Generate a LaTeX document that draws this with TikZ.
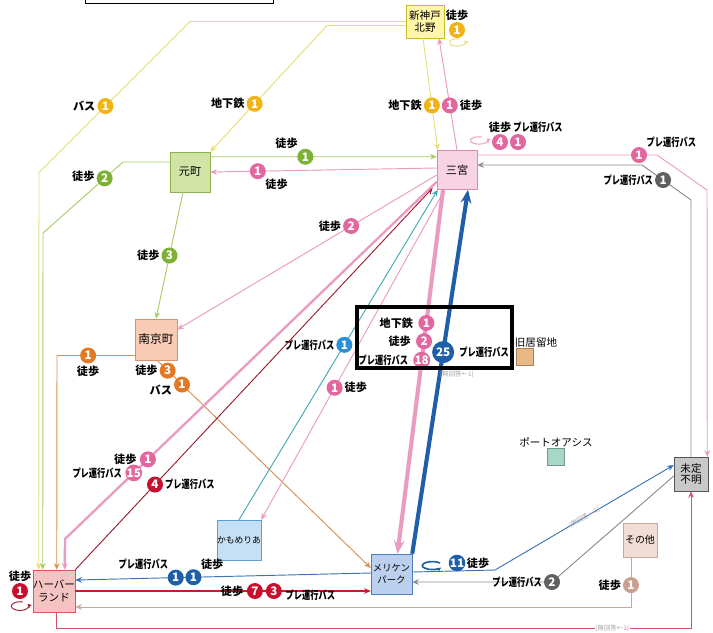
\documentclass[tikz,border=0pt]{standalone}
\usepackage{fontspec}
\setmainfont{Noto Sans CJK JP}
\newfontfamily\narrowjp{Noto Sans CJK JP}[FakeStretch=0.74]
\usepackage{tikz}
\usetikzlibrary{arrows.meta, positioning, calc}
% station colours
\definecolor{skfill}{HTML}{FFF6A8}
\definecolor{skdraw}{HTML}{C8B830}
\definecolor{mmfill}{HTML}{D2E3A6}
\definecolor{mmdraw}{HTML}{8DB050}
\definecolor{snfill}{HTML}{F8D3E3}
\definecolor{sndraw}{HTML}{E088B0}
\definecolor{nkfill}{HTML}{F9CBB4}
\definecolor{nkdraw}{HTML}{D99070}
\definecolor{hbfill}{HTML}{F6C3C3}
\definecolor{hbdraw}{HTML}{D45A5A}
\definecolor{kmfill}{HTML}{C5DFF4}
\definecolor{kmdraw}{HTML}{5A9FD5}
\definecolor{mrfill}{HTML}{BBD0EE}
\definecolor{mrdraw}{HTML}{4F7FBF}
\definecolor{unfill}{HTML}{C8C8C8}
\definecolor{undraw}{HTML}{555555}
\definecolor{otfill}{HTML}{F2DDD6}
\definecolor{otdraw}{HTML}{C9A898}
\definecolor{kyfill}{HTML}{E9B985}
\definecolor{oafill}{HTML}{A6D7C9}
% route colours
\definecolor{yline}{HTML}{E6DE78}
\definecolor{ynum}{HTML}{F0B418}
\definecolor{gline}{HTML}{A8CC66}
\definecolor{gnum}{HTML}{7CB134}
\definecolor{pline}{HTML}{EB9AC0}
\definecolor{pnum}{HTML}{E2679F}
\definecolor{oline}{HTML}{D9904E}
\definecolor{onum}{HTML}{E07A25}
\definecolor{rline}{HTML}{9B1C2E}
\definecolor{rnum}{HTML}{C8102E}
\definecolor{tline}{HTML}{3FA9B5}
\definecolor{cnum}{HTML}{2B8FD6}
\definecolor{bline}{HTML}{1F5FA8}
\definecolor{bline2}{HTML}{3A74B5}
\definecolor{kline}{HTML}{8C8C8C}
\definecolor{knum}{HTML}{606060}
\definecolor{redline}{HTML}{C8192E}
\definecolor{tanline}{HTML}{C7A899}
\definecolor{tannum}{HTML}{C9A090}
\definecolor{bline3}{HTML}{D9506E}
\newcommand\prebus{{\narrowjp プレ運行バス}}
\tikzset{
  % stations -- usage: \node[stn={fill}{draw}] ...
  stn/.style 2 args={rectangle, draw=#2, fill=#1, minimum width=1.2cm,
                     minimum height=1.2cm, inner sep=0pt, align=center,
                     font=\fontsize{9.5}{11}\selectfont},
  spot/.style={rectangle, draw=#1!70!black, fill=#1, minimum size=0.51cm},
  % routes
  wire/.style={draw=#1, line width=0.8pt, -{Stealth[length=2mm,width=1.7mm]}},
  loopar/.style={draw=#1, line width=0.8pt, -{Stealth[length=1.3mm,width=1.3mm]}},
  % counts
  num/.style={circle, fill=#1, text=white, inner sep=0pt, minimum size=0.48cm,
              font=\bfseries\fontsize{10}{10}\selectfont},
  lbl/.style={font=\bfseries\fontsize{9.5}{10}\selectfont, inner sep=1pt},
  plain/.style={font=\fontsize{9}{10}\selectfont, inner sep=1pt},
  nolbl/.style={font=\fontsize{5.5}{6}\selectfont, text=gray!70, inner sep=0.5pt},
}

\begin{document}
\begin{tikzpicture}[x=0.03cm, y=-0.03cm]
\useasboundingbox (0,0) rectangle (713,632);

% ── Stations ─────────────────────────────────────────────────────────────────
\node[stn={skfill}{skdraw}, minimum width=1.14cm, minimum height=0.99cm,
      font=\fontsize{9}{10}\selectfont] (shinkobe) at (425,21.5) {新神戸\\北野};
\node[stn={mmfill}{mmdraw}] (motomachi) at (190,172) {元町};
\node[stn={snfill}{sndraw}, minimum height=1.17cm] (sannomiya) at (457,170) {三宮};
\node[stn={nkfill}{nkdraw}, minimum width=1.26cm, minimum height=1.23cm,
      font=\fontsize{10}{11}\selectfont] (nankin) at (156,339.5) {南京町};
\node[stn={hbfill}{hbdraw}, minimum size=1.26cm,
      font=\fontsize{9}{11}\selectfont] (harbor) at (54,591) {ハーバー\\ランド};
\node[stn={kmfill}{kmdraw}, font=\fontsize{7.5}{9}\selectfont] (kamome) at (239,540) {かもめりあ};
\node[stn={mrfill}{mrdraw}, minimum width=1.23cm,
      font=\fontsize{8}{10}\selectfont] (meriken) at (391.5,574) {メリケン\\パーク};
\node[stn={unfill}{undraw}, minimum size=1.02cm,
      font=\fontsize{9}{10}\selectfont] (unknown) at (691,474) {未定\\不明};
\node[stn={otfill}{otdraw}, minimum size=1.02cm,
      font=\fontsize{8.5}{10}\selectfont] (other) at (640,540) {その他};

% ── Spots without trips ──────────────────────────────────────────────────────
\node[spot=kyfill, label={[plain, xshift=3.3mm]above:旧居留地}] (kyoryu) at (525,357) {};
\node[spot=oafill, label={[plain]above:ポートオアシス}] (oasis) at (556,457) {};

% ── Routes ───────────────────────────────────────────────────────────────────
% 新神戸北野 -> ハーバーランド (bus)
\draw[wire=yline] (shinkobe.west) -- (190,21.5)
  -- node[num=ynum, pos=.56, label={[lbl]left:バス}]{1} (39,172.5)
  -- ($(harbor.north west)+(6,0)$);

% 新神戸北野 -> 元町 (subway)
\draw[wire=yline] ($(shinkobe.west)+(0,4)$) -- (327,25.5)
  -- node[num=ynum, pos=.62, label={[lbl]left:地下鉄}]{1} (motomachi.north east);

% 新神戸北野 -> 三宮 (subway)
\draw[wire=yline] ($(shinkobe.south)+(-2,0)$)
  -- node[num=ynum, pos=.6, label={[lbl]left:地下鉄}]{1} ($(sannomiya.north west)+(1,0)$);

% 三宮 -> 新神戸北野 (walk)
\draw[wire=pline] (sannomiya.north)
  -- node[num=pnum, pos=.4, label={[lbl]right:徒歩}]{1} ($(shinkobe.south)+(14,0)$);

% 元町 -> 三宮 (walk)
\draw[wire=gline] ($(motomachi.north east)+(0,5)$)
  -- node[num=gnum, pos=.42, label={[lbl]above left:徒歩}]{1} ($(sannomiya.north west)+(0,6.5)$);

% 三宮 -> 元町 (walk)
\draw[wire=pline] ($(sannomiya.west)+(0,-2)$)
  -- node[num=pnum, pos=.79, label={[lbl]below right:徒歩}]{1} (motomachi.east);

% 元町 -> ハーバーランド (walk)
\draw[wire=gline] ($(motomachi.west)+(0,-10)$) -- (123,162)
  -- node[num=gnum, pos=.23, label={[lbl, yshift=2pt]left:徒歩}]{2} (43,233)
  -- ($(harbor.north west)+(10,0)$);

% 元町 -> 南京町 (walk)
\draw[wire=gline] ($(motomachi.south)+(-7,0)$)
  -- node[num=gnum, pos=.5, label={[lbl]left:徒歩}]{3} (nankin.north);

% 三宮 -> 南京町 (walk)
\draw[wire=pline] ($(sannomiya.west)+(0,5)$)
  -- node[num=pnum, pos=.33, label={[lbl]left:徒歩}]{2} ($(nankin.east)+(0,-10)$);

% 南京町 -> ハーバーランド (walk)
\draw[wire=oline] ($(nankin.west)+(0,16)$)
  -- node[num=onum, pos=.6, label={[lbl]below:徒歩}]{1} (57,355.5)
  -- ($(harbor.north west)+(24,0)$);

% 南京町 -> メリケンパーク (walk, bus)
\draw[wire=oline] ($(nankin.south)+(1,0)$)
  -- node[num=onum, pos=.05, label={[lbl]left:徒歩}]{3}
     node[num=onum, pos=.117, label={[lbl, yshift=-5pt]left:バス}]{1}
     ($(meriken.west)+(0,-6)$);

% 三宮 -> かもめりあ (walk)
\draw[wire=pline] ($(sannomiya.south west)+(8,0)$)
  -- node[num=pnum, pos=.6, label={[lbl]right:徒歩}]{1} (kamome.north east);

% かもめりあ -> 三宮 (pre-service bus)
\draw[wire=tline] (kamome.north)
  -- node[num=cnum, pos=.53, label={[lbl]left:\prebus}]{1} ($(sannomiya.south west)+(1,0)$);

% ハーバーランド -> 三宮 (pre-service bus)
\draw[wire=rline] (harbor.north east)
  -- node[num=rnum, pos=.223, label={[lbl]right:\prebus}]{4} ($(sannomiya.south west)+(-4,-2)$);

% 三宮 -> ハーバーランド (walk, pre-service bus)
\draw[wire=pline, line width=2pt] ($(sannomiya.south west)+(0,-8)$)
  -- node[num=pnum, pos=.777, label={[lbl]left:徒歩}]{1}
     node[num=pnum, pos=.815, label={[lbl]left:\prebus}]{15} (65,539)
  -- ($(harbor.north west)+(32,0)$);

% 未定不明 -> 三宮 (pre-service bus)
\draw[wire=kline] (unknown.north) -- (691,200)
  -- node[num=knum, pos=.57, label={[lbl]left:\prebus}]{1} (642,165)
  -- ($(sannomiya.east)+(0,-5)$);

% 三宮 -> 未定不明 (pre-service bus)
\draw[wire=pline] ($(sannomiya.east)+(0,-15)$)
  -- node[num=pnum, pos=.9, label={[lbl]above right:\prebus}]{1} (657,155)
  -- (707,190) -- ($(unknown.north east)+(-1,0)$);

% 未定不明 -> メリケンパーク (pre-service bus)
\draw[wire=kline] ($(unknown.west)+(0,2)$)
  -- (552,582) node[num=knum, label={[lbl]left:\prebus}]{2}
  -- ($(meriken.east)+(0,8)$);

% メリケンパーク -> 未定不明
\draw[wire=bline2] ($(meriken.east)+(0,-2)$) -- (495,570)
  -- node[nolbl, sloped, pos=.5]{[無回答←1]} ($(unknown.west)+(0,-9)$);

% メリケンパーク -> ハーバーランド (walk, pre-service bus)
\draw[wire=bline2] ($(meriken.west)+(0,-1)$)
  -- node[num=bline, pos=.60, label={[lbl]above right:徒歩}]{1}
     node[num=bline, pos=.66, label={[lbl]above left:\prebus}]{1}
     ($(harbor.east)+(0,-11)$);

% ハーバーランド -> メリケンパーク (walk, pre-service bus)
\draw[wire=redline, line width=2.2pt] (harbor.east)
  -- node[num=rnum, pos=.608, label={[lbl]left:徒歩}]{7}
     node[num=rnum, pos=.672, label={[lbl, yshift=-4pt]right:\prebus}]{3}
     ($(meriken.west)+(0,17)$);

% その他 -> ハーバーランド (walk)
\draw[wire=tanline] ($(other.south)+(-9,0)$)
  -- node[num=tannum, pos=.56, label={[lbl]left:徒歩}]{1} (631,607)
  -- ($(harbor.east)+(0,16)$);

% ハーバーランド -> 未定不明
\draw[wire=bline3] ($(harbor.south)+(2,0)$) -- (56,628)
  -- node[nolbl, fill=white, pos=.876]{[無回答←1]} (691,628) -- (unknown.south);

% 三宮 -> メリケンパーク (subway, walk, pre-service bus)
\draw[wire=pline, line width=3.5pt, -{Stealth[length=4mm,width=3.2mm]}]
  ($(sannomiya.south)+(-14,0)$)
  -- node[num=pnum, pos=.366, label={[lbl]left:地下鉄}]{1}
     node[num=pnum, pos=.416, label={[lbl]left:徒歩}]{2}
     node[num=pnum, pos=.468, label={[lbl]left:\prebus}]{18}
     ($(meriken.north)+(6,0)$);

% メリケンパーク -> 三宮 (pre-service bus)
\draw[wire=bline, line width=3.5pt, -{Stealth[length=4mm,width=3.2mm]}] (meriken.north east)
  -- node[num=bline, minimum size=0.66cm, pos=.554, label={[lbl]right:\prebus}]{25}
     ($(sannomiya.south)+(11,0)$);
\node[nolbl] (nolblmid) at (457,374) {[無回答←1]};

% ── Trips within one spot ────────────────────────────────────────────────────
% 新神戸北野
\draw[loopar=yline] (460,39) arc[start angle=70, end angle=390, x radius=0.24cm, y radius=0.11cm];
\node[num=ynum, label={[lbl]above:徒歩}] (skself) at (457,30) {1};

% 三宮
\draw[loopar=pline] (482,137) arc[start angle=70, end angle=390, x radius=0.26cm, y radius=0.11cm];
\node[num=pnum, label={[lbl]above:徒歩}] (snwalk) at (500,142) {4};
\node[num=pnum, label={[lbl, xshift=6mm]above:\prebus}] (snbus) at (518,142) {1};

% ハーバーランド
\draw[loopar=rline] (23,602) arc[start angle=70, end angle=390, x radius=0.26cm, y radius=0.13cm];
\node[num=rnum, label={[lbl]above:徒歩}] (hbself) at (20,591) {1};

% メリケンパーク
\draw[loopar=bline, line width=1.4pt] (440,563) arc[start angle=40, end angle=330, x radius=0.3cm, y radius=0.12cm];
\node[num=bline, label={[lbl]right:徒歩}] (mrself) at (457,563) {11};

% ── Frames ───────────────────────────────────────────────────────────────────
\draw[line width=0.6pt] (85,-1) -- (85,3) -- (273,3) -- (273,-1);
\draw[line width=3.4pt] (357,307) rectangle (512,368);

\end{tikzpicture}
\end{document}
